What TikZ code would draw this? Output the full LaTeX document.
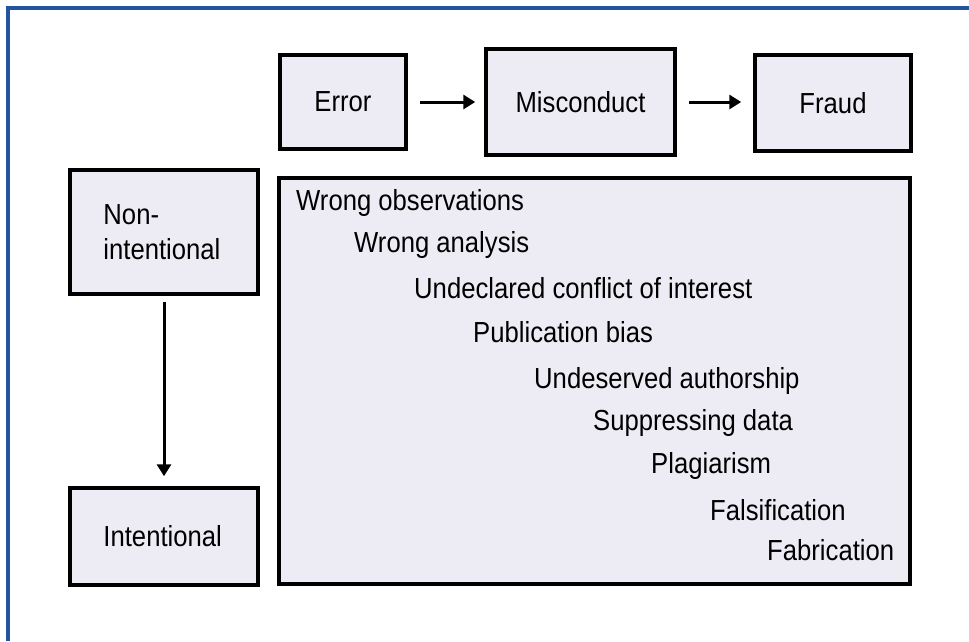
\documentclass[tikz,border=0pt]{standalone}
\usepackage{fontspec}
\setmainfont[FakeStretch=0.885]{Liberation Sans}
\usetikzlibrary{arrows.meta}
\definecolor{boxfill}{HTML}{EDECF5}
\definecolor{frameblue}{HTML}{22559B}
\begin{document}
\begin{tikzpicture}[x=1pt,y=-1pt,
  box/.style={draw=black,line width=3.5pt,fill=boxfill,rectangle,inner sep=0pt},
  lab/.style={font=\fontsize{29}{35}\selectfont,inner sep=0pt},
  item/.style={lab,anchor=base west},
  arr/.style={line width=3pt,-{Triangle[length=12pt,width=14pt]}}]
\useasboundingbox (0,0) rectangle (969,641);
\fill[white] (0,0) rectangle (969,641);
% blue frame (top and left)
\draw[frameblue,line width=4pt] (8,641) -- (8,8) -- (969,8);
% top boxes
\node[box,minimum width=126pt,minimum height=94pt] (err) at (343,102) {};
\node[lab] at (err.center) {Error};
\node[box,minimum width=189pt,minimum height=106pt] (mis) at (580.5,102) {};
\node[lab] at (mis.center) {Misconduct};
\node[box,minimum width=156pt,minimum height=96pt] (fra) at (833,103) {};
\node[lab] at (fra.center) {Fraud};
% left boxes
\node[box,minimum width=188pt,minimum height=124pt] (non) at (164,232) {};
\node[lab,align=left,anchor=west] at ([xshift=35pt]non.west) {Non-\\intentional};
\node[box,minimum width=188pt,minimum height=97pt] (int) at (164,536.5) {};
\node[lab,anchor=west] at ([xshift=35pt]int.west) {Intentional};
% big box
\node[box,minimum width=631pt,minimum height=406pt] (big) at (594.5,381) {};
\node[item] (i1) at (296,210) {Wrong observations};
\node[item] (i2) at (354,252) {Wrong analysis};
\node[item] (i3) at (414,298) {Undeclared conflict of interest};
\node[item] (i4) at (473,342) {Publication bias};
\node[item] (i5) at (534,388) {Undeserved authorship};
\node[item] (i6) at (593,430) {Suppressing data};
\node[item] (i7) at (651,473) {Plagiarism};
\node[item] (i8) at (710,520) {Falsification};
\node[item] (i9) at (767,560) {Fabrication};
% arrows
\draw[arr,shorten <=12pt,shorten >=9pt] (err.east) -- (mis.west |- err.east);
\draw[arr,shorten <=12pt,shorten >=12pt] (mis.east) -- (fra.west |- mis.east);
\draw[arr,shorten <=6pt,shorten >=10pt] (non.south) -- (int.north);
\end{tikzpicture}
\end{document}
